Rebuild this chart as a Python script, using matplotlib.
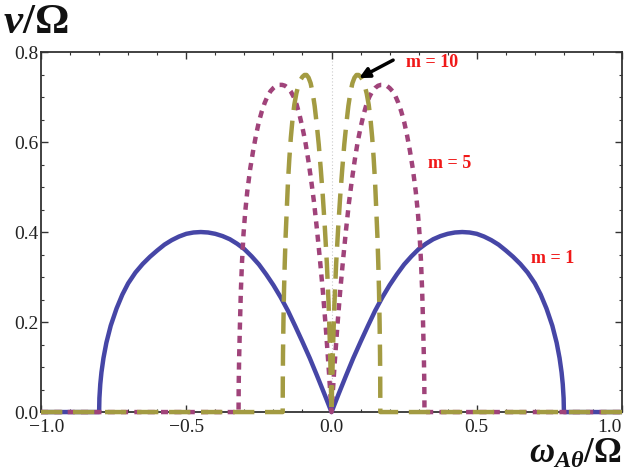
import matplotlib
matplotlib.use("Agg")
import matplotlib.pyplot as plt
from matplotlib.ticker import MultipleLocator, FixedLocator
from matplotlib.transforms import ScaledTranslation

# ---- data ----
x_m1 = [-1.0, -0.80, -0.799, -0.796, -0.792, -0.785, -0.775, -0.76, -0.74, -0.72, -0.70,
        -0.675, -0.65, -0.625, -0.60, -0.575, -0.55, -0.525, -0.50, -0.475, -0.45,
        -0.425, -0.40, -0.375, -0.35, -0.325, -0.30, -0.275, -0.25, -0.225, -0.20,
        -0.175, -0.15, -0.125, -0.10, -0.075, -0.05, -0.025, 0.0,
        0.025, 0.05, 0.075, 0.10, 0.125, 0.15, 0.175, 0.20, 0.225, 0.25, 0.275,
        0.30, 0.325, 0.35, 0.375, 0.40, 0.425, 0.45, 0.475, 0.50, 0.525, 0.55,
        0.575, 0.60, 0.625, 0.65, 0.675, 0.70, 0.72, 0.74, 0.76, 0.775, 0.785,
        0.792, 0.796, 0.799, 0.80, 1.0]
y_m1 = [0.0, 0.0, 0.031, 0.062, 0.088, 0.120, 0.154, 0.192, 0.230, 0.261, 0.286,
        0.310, 0.329, 0.345, 0.359, 0.372, 0.382, 0.390, 0.396, 0.399, 0.400,
        0.399, 0.396, 0.391, 0.384, 0.374, 0.362, 0.346, 0.328, 0.306, 0.282,
        0.255, 0.225, 0.191, 0.156, 0.120, 0.081, 0.041, 0.0,
        0.041, 0.081, 0.120, 0.156, 0.191, 0.225, 0.255, 0.282, 0.306, 0.328, 0.346,
        0.362, 0.374, 0.384, 0.391, 0.396, 0.399, 0.400, 0.399, 0.396, 0.390, 0.382,
        0.372, 0.359, 0.345, 0.329, 0.310, 0.286, 0.261, 0.230, 0.192, 0.154, 0.120,
        0.088, 0.062, 0.031, 0.0, 0.0]

x_m5 = [-1.0, -0.32, -0.3195, -0.318, -0.315, -0.312, -0.308, -0.303, -0.297, -0.29,
        -0.28, -0.27, -0.26, -0.25, -0.24, -0.23, -0.22, -0.21, -0.20, -0.19, -0.18,
        -0.17, -0.16, -0.15, -0.14, -0.13, -0.12, -0.11, -0.10, -0.09, -0.08, -0.07,
        -0.06, -0.05, -0.04, -0.03, -0.02, -0.01, 0.0,
        0.01, 0.02, 0.03, 0.04, 0.05, 0.06, 0.07, 0.08, 0.09, 0.10, 0.11, 0.12,
        0.13, 0.14, 0.15, 0.16, 0.17, 0.18, 0.19, 0.20, 0.21, 0.22, 0.23, 0.24,
        0.25, 0.26, 0.27, 0.28, 0.29, 0.297, 0.303, 0.308, 0.312, 0.315, 0.318,
        0.3195, 0.32, 1.0]
y_m5 = [0.0, 0.0, 0.06, 0.12, 0.20, 0.27, 0.335, 0.395, 0.445, 0.49,
        0.54, 0.58, 0.615, 0.645, 0.668, 0.687, 0.702, 0.713, 0.72, 0.725, 0.727,
        0.727, 0.725, 0.72, 0.712, 0.70, 0.683, 0.66, 0.632, 0.60, 0.56, 0.515,
        0.465, 0.405, 0.34, 0.27, 0.19, 0.10, 0.0,
        0.10, 0.19, 0.27, 0.34, 0.405, 0.465, 0.515, 0.56, 0.60, 0.632, 0.66, 0.683,
        0.70, 0.712, 0.72, 0.725, 0.727, 0.727, 0.725, 0.72, 0.713, 0.702, 0.687, 0.668,
        0.645, 0.615, 0.58, 0.54, 0.49, 0.445, 0.395, 0.335, 0.27, 0.20, 0.12,
        0.06, 0.0, 0.0]

x_m10 = [-1.0, -0.168, -0.1677, -0.167, -0.1655, -0.1635, -0.161, -0.158, -0.154, -0.150,
         -0.145, -0.140, -0.134, -0.128, -0.121, -0.114, -0.107, -0.100, -0.093, -0.086,
         -0.079, -0.072, -0.065, -0.058, -0.051, -0.044, -0.037, -0.030, -0.023, -0.016,
         -0.010, -0.005, 0.0,
         0.005, 0.010, 0.016, 0.023, 0.030, 0.037, 0.044, 0.051, 0.058, 0.065, 0.072,
         0.079, 0.086, 0.093, 0.100, 0.107, 0.114, 0.121, 0.128, 0.134, 0.140, 0.145,
         0.150, 0.154, 0.158, 0.161, 0.1635, 0.1655, 0.167, 0.1677, 0.168, 1.0]
y_m10 = [0.0, 0.0, 0.07, 0.13, 0.20, 0.27, 0.33, 0.39, 0.45, 0.51,
         0.565, 0.61, 0.652, 0.683, 0.708, 0.726, 0.738, 0.745, 0.749, 0.749,
         0.743, 0.731, 0.71, 0.68, 0.64, 0.595, 0.54, 0.48, 0.41, 0.33,
         0.24, 0.14, 0.0,
         0.14, 0.24, 0.33, 0.41, 0.48, 0.54, 0.595, 0.64, 0.68, 0.71, 0.731,
         0.743, 0.749, 0.749, 0.745, 0.738, 0.726, 0.708, 0.683, 0.652, 0.61, 0.565,
         0.51, 0.45, 0.39, 0.33, 0.27, 0.20, 0.13, 0.07, 0.0, 0.0]

x_ticks = [-1.0, -0.5, 0.0, 0.5, 1.0]
x_tick_labels = ["\u22121.0", "\u22120.5", "0.0", "0.5", "1.0"]
y_ticks = [0.0, 0.2, 0.4, 0.6, 0.8]
y_tick_labels = ["0.0", "0.2", "0.4", "0.6", "0.8"]
labels_text = ["m = 1", "m = 5", "m = 10"]

# ---- figure ----
plt.rcParams['mathtext.fontset'] = 'custom'
plt.rcParams['mathtext.rm'] = 'Liberation Serif:bold'
plt.rcParams['mathtext.it'] = 'Liberation Serif:italic:bold'
plt.rcParams['mathtext.bf'] = 'Liberation Serif:bold'

fig = plt.figure(figsize=(6.29, 4.72), dpi=100)
ax = fig.add_axes([0.0652, 0.127, 0.9237, 0.7628])

ax.axvline(0.0, color='#cccccc', lw=0.8, ls=(0, (1, 2)), zorder=1)

lw = 3.2
l1, = ax.plot(x_m1, y_m1, color='#4646a6', lw=lw, solid_capstyle='butt',
              solid_joinstyle='round', zorder=3, clip_on=False)
l2, = ax.plot(x_m5, y_m5, color='#a0437a', lw=lw, zorder=4, clip_on=False)
l2.set_dashes((1.6, 1.4))
l2.set_dash_capstyle('butt')
l3, = ax.plot(x_m10, y_m10, color='#a39b42', lw=lw, zorder=5, clip_on=False)
l3.set_dashes((4.8, 2.4))
l3.set_dash_capstyle('butt')

ax.set_xlim(-1.0, 1.0)
ax.set_ylim(0.0, 0.8)

ax.xaxis.set_major_locator(FixedLocator(x_ticks))
ax.xaxis.set_minor_locator(MultipleLocator(0.1))
ax.yaxis.set_major_locator(FixedLocator(y_ticks))
ax.yaxis.set_minor_locator(MultipleLocator(0.05))
ax.set_xticklabels(x_tick_labels)
ax.set_yticklabels(y_tick_labels)

ax.tick_params(which='both', direction='in', top=True, right=True, color='#333333')
ax.tick_params(which='major', length=5, width=1.0, labelsize=14)
ax.tick_params(axis='x', which='major', pad=5)
ax.tick_params(axis='y', which='major', pad=2)
ax.tick_params(which='minor', length=2.5, width=0.8)
for lab in ax.get_xticklabels() + ax.get_yticklabels():
    lab.set_family('Liberation Serif')
    lab.set_color('#222222')
xlabs = ax.get_xticklabels()
xlabs[-1].set_horizontalalignment('right')
xlabs[0].set_transform(xlabs[0].get_transform() +
                       ScaledTranslation(6 / 100, 0, fig.dpi_scale_trans))
for s in ax.spines.values():
    s.set_color('#333333')
    s.set_linewidth(1.3)
    s.set_zorder(2)

# annotations
red = '#f01818'
ax.text(0.762, 0.342, labels_text[0], color=red, fontsize=13, fontweight='bold',
        family='Liberation Serif', ha='center', va='center')
ax.text(0.408, 0.553, labels_text[1], color=red, fontsize=13, fontweight='bold',
        family='Liberation Serif', ha='center', va='center')
ax.text(0.346, 0.776, labels_text[2], color=red, fontsize=13, fontweight='bold',
        family='Liberation Serif', ha='center', va='center')
ax.annotate("", xy=(0.095, 0.742), xytext=(0.212, 0.782),
            arrowprops=dict(arrowstyle='-|>', color='black', lw=2.5,
                            mutation_scale=15, shrinkA=0, shrinkB=0), zorder=6)

# axis labels
fig.text(0.005, 0.955, r"$\nu/\Omega$", fontsize=31, ha='left', va='center', color='#111111')
fig.text(0.988, 0.004, r"$\omega_{A\theta}/\Omega$", fontsize=25, ha='right', va='bottom',
         color='#111111')

fig.savefig("out.png", dpi=100)
